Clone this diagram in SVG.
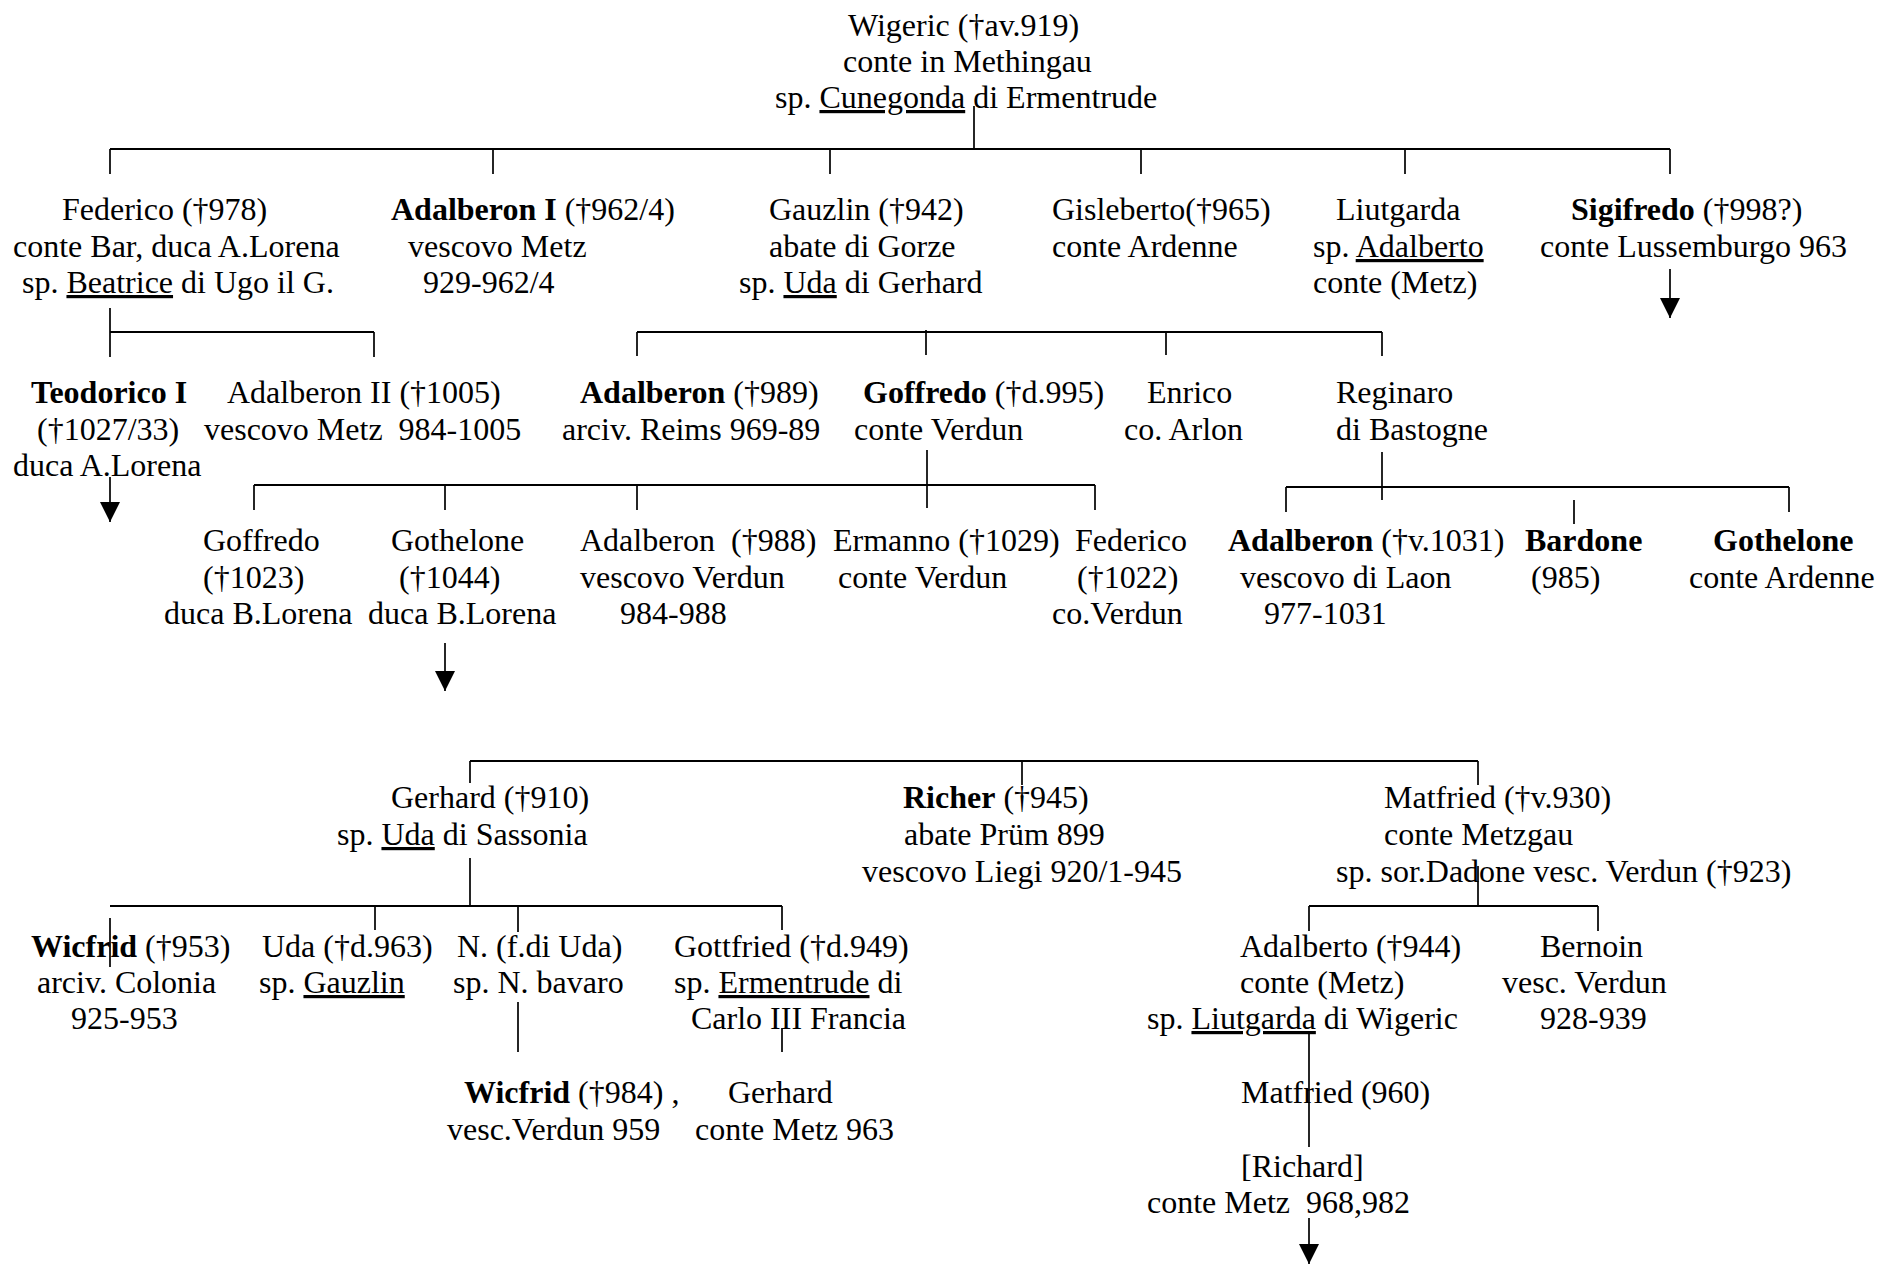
<svg xmlns="http://www.w3.org/2000/svg" width="1881" height="1264" viewBox="0 0 1881 1264">
<style>
text{font-family:"Liberation Serif","Times New Roman",serif;font-size:32px;fill:#000;white-space:pre}
.b{font-weight:bold}
.u{text-decoration:underline}
.h{stroke:#000;stroke-width:2;fill:none}
.v{stroke:#000;stroke-width:1.7;fill:none}
</style>
<defs>
<marker id="arr" viewBox="0 0 20 20" refX="20" refY="10" markerWidth="20" markerHeight="20" markerUnits="userSpaceOnUse" orient="auto">
<path d="M0,0 L20,10 L0,20 z" fill="#000"/>
</marker>
</defs>
<rect width="1881" height="1264" fill="#fff"/>
<g id="connectors">
<path class="v" d="M974,106 V149"/>
<path class="h" d="M110,149 H1670"/>
<path class="v" d="M110,149 V174 M493,149 V174 M830,149 V174 M1141,149 V174 M1405,149 V174 M1670,149 V174"/>
<path class="v" d="M1670,269 V318" marker-end="url(#arr)"/>
<path class="v" d="M110,308 V357 M374,332 V357"/>
<path class="h" d="M110,332 H374"/>
<path class="h" d="M637,332 H1382"/>
<path class="v" d="M637,332 V356 M926,330 V355 M1166,332 V355 M1382,332 V356"/>
<path class="v" d="M110,477 V522" marker-end="url(#arr)"/>
<path class="v" d="M927,450 V508"/>
<path class="h" d="M254,485 H1095"/>
<path class="v" d="M254,485 V510 M445,485 V510 M637,485 V510 M1095,485 V510"/>
<path class="v" d="M1382,452 V500"/>
<path class="h" d="M1286,487 H1789"/>
<path class="v" d="M1286,487 V512 M1789,487 V512 M1574,500 V524"/>
<path class="v" d="M445,643 V691" marker-end="url(#arr)"/>
<path class="h" d="M470,761 H1478"/>
<path class="v" d="M470,761 V783 M1022,761 V785 M1478,761 V785"/>
<path class="v" d="M470,858 V906"/>
<path class="h" d="M110,906 H782"/>
<path class="v" d="M375,906 V930 M518,906 V932 M782,906 V930 M110,918 V967"/>
<path class="v" d="M518,1002 V1052 M782,1028 V1052"/>
<path class="v" d="M1478,866 V906"/>
<path class="h" d="M1309,906 H1598"/>
<path class="v" d="M1309,906 V931 M1598,906 V931"/>
<path class="v" d="M1309,1033 V1147"/>
<path class="v" d="M1309,1218 V1264" marker-end="url(#arr)"/>
</g>
<g id="n-wigeric">
<text x="848" y="36">Wigeric (†av.919)</text>
<text x="843" y="72">conte in Methingau</text>
<text x="775" y="108">sp. <tspan class="u">Cunegonda</tspan> di Ermentrude</text>
</g>
<g id="n-federico">
<text x="62" y="220">Federico (†978)</text>
<text x="13" y="257">conte Bar, duca A.Lorena</text>
<text x="22" y="293">sp. <tspan class="u">Beatrice</tspan> di Ugo il G.</text>
</g>
<g id="n-adalberon1">
<text x="391" y="220"><tspan class="b">Adalberon I</tspan> (†962/4)</text>
<text x="408" y="257">vescovo Metz</text>
<text x="423" y="293">929-962/4</text>
</g>
<g id="n-gauzlin">
<text x="769" y="220">Gauzlin (†942)</text>
<text x="769" y="257">abate di Gorze</text>
<text x="739" y="293">sp. <tspan class="u">Uda</tspan> di Gerhard</text>
</g>
<g id="n-gisleberto">
<text x="1052" y="220">Gisleberto(†965)</text>
<text x="1052" y="257">conte Ardenne</text>
</g>
<g id="n-liutgarda">
<text x="1336" y="220">Liutgarda</text>
<text x="1313" y="257">sp. <tspan class="u">Adalberto</tspan></text>
<text x="1313" y="293">conte (Metz)</text>
</g>
<g id="n-sigifredo">
<text x="1571" y="220"><tspan class="b">Sigifredo</tspan> (†998?)</text>
<text x="1540" y="257">conte Lussemburgo 963</text>
</g>
<g id="n-teodorico">
<text x="31" y="403" class="b">Teodorico I</text>
<text x="37" y="440">(†1027/33)</text>
<text x="13" y="476">duca A.Lorena</text>
</g>
<g id="n-adalberon2">
<text x="227" y="403">Adalberon II (†1005)</text>
<text x="204" y="440">vescovo Metz  984-1005</text>
</g>
<g id="n-adalberon-reims">
<text x="580" y="403"><tspan class="b">Adalberon</tspan> (†989)</text>
<text x="562" y="440">arciv. Reims 969-89</text>
</g>
<g id="n-goffredo">
<text x="863" y="403"><tspan class="b">Goffredo</tspan> (†d.995)</text>
<text x="854" y="440">conte Verdun</text>
</g>
<g id="n-enrico">
<text x="1147" y="403">Enrico</text>
<text x="1124" y="440">co. Arlon</text>
</g>
<g id="n-reginaro">
<text x="1336" y="403">Reginaro</text>
<text x="1336" y="440">di Bastogne</text>
</g>
<g id="n-goffredo2">
<text x="203" y="551">Goffredo</text>
<text x="203" y="588">(†1023)</text>
<text x="164" y="624">duca B.Lorena</text>
</g>
<g id="n-gothelone">
<text x="391" y="551">Gothelone</text>
<text x="399" y="588">(†1044)</text>
<text x="368" y="624">duca B.Lorena</text>
</g>
<g id="n-adalberon-verdun">
<text x="580" y="551">Adalberon  (†988)</text>
<text x="580" y="588">vescovo Verdun</text>
<text x="620" y="624">984-988</text>
</g>
<g id="n-ermanno">
<text x="833" y="551">Ermanno (†1029)</text>
<text x="838" y="588">conte Verdun</text>
</g>
<g id="n-federico2">
<text x="1075" y="551">Federico</text>
<text x="1077" y="588">(†1022)</text>
<text x="1052" y="624">co.Verdun</text>
</g>
<g id="n-adalberon-laon">
<text x="1228" y="551"><tspan class="b">Adalberon</tspan> (†v.1031)</text>
<text x="1240" y="588">vescovo di Laon</text>
<text x="1264" y="624">977-1031</text>
</g>
<g id="n-bardone">
<text x="1525" y="551" class="b">Bardone</text>
<text x="1531" y="588">(985)</text>
</g>
<g id="n-gothelone2">
<text x="1713" y="551" class="b">Gothelone</text>
<text x="1689" y="588">conte Ardenne</text>
</g>
<g id="n-gerhard">
<text x="391" y="808">Gerhard (†910)</text>
<text x="337" y="845">sp. <tspan class="u">Uda</tspan> di Sassonia</text>
</g>
<g id="n-richer">
<text x="903" y="808"><tspan class="b">Richer</tspan> (†945)</text>
<text x="904" y="845">abate Prüm 899</text>
<text x="862" y="882">vescovo Liegi 920/1-945</text>
</g>
<g id="n-matfried">
<text x="1384" y="808">Matfried (†v.930)</text>
<text x="1384" y="845">conte Metzgau</text>
<text x="1336" y="882">sp. sor.Dadone vesc. Verdun (†923)</text>
</g>
<g id="n-wicfrid">
<text x="31" y="957"><tspan class="b">Wicfrid</tspan> (†953)</text>
<text x="37" y="993">arciv. Colonia</text>
<text x="71" y="1029">925-953</text>
</g>
<g id="n-uda">
<text x="262" y="957">Uda (†d.963)</text>
<text x="259" y="993">sp. <tspan class="u">Gauzlin</tspan></text>
</g>
<g id="n-n">
<text x="457" y="957">N. (f.di Uda)</text>
<text x="453" y="993">sp. N. bavaro</text>
</g>
<g id="n-gottfried">
<text x="674" y="957">Gottfried (†d.949)</text>
<text x="674" y="993">sp. <tspan class="u">Ermentrude</tspan> di</text>
<text x="691" y="1029">Carlo III Francia</text>
</g>
<g id="n-adalberto">
<text x="1240" y="957">Adalberto (†944)</text>
<text x="1240" y="993">conte (Metz)</text>
<text x="1147" y="1029">sp. <tspan class="u">Liutgarda</tspan> di Wigeric</text>
</g>
<g id="n-bernoin">
<text x="1540" y="957">Bernoin</text>
<text x="1502" y="993">vesc. Verdun</text>
<text x="1540" y="1029">928-939</text>
</g>
<g id="n-wicfrid2">
<text x="464" y="1103"><tspan class="b">Wicfrid</tspan> (†984) ,</text>
<text x="447" y="1140">vesc.Verdun 959</text>
</g>
<g id="n-gerhard2">
<text x="728" y="1103">Gerhard</text>
<text x="695" y="1140">conte Metz 963</text>
</g>
<g id="n-matfried2">
<text x="1241" y="1103">Matfried (960)</text>
</g>
<g id="n-richard">
<text x="1241" y="1177">[Richard]</text>
<text x="1147" y="1213">conte Metz  968,982</text>
</g>
</svg>
